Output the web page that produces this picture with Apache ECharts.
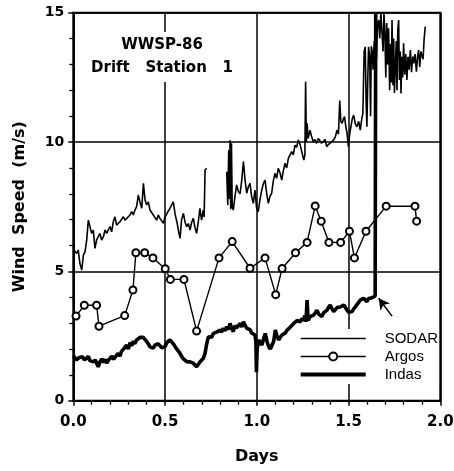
<!DOCTYPE html>
<html><head><meta charset="utf-8">
<script src="https://cdn.jsdelivr.net/npm/echarts@6/dist/echarts.min.js"></script>
<style>html,body{margin:0;padding:0;background:#fff}#c{width:454px;height:471px}</style>
</head><body><div id="c"></div>
<script>
const seriesNames = ['SODAR', 'Argos', 'Indas'];
const xTickLabels = ['0.0', '0.5', '1.0', '1.5', '2.0'];
const yTickLabels = ['0', '5', '10', '15'];
const chartTitle = ['WWSP-86', 'Drift   Station   1'];
const xName = 'Days';
const yName = 'Wind  Speed  (m/s)';

// SODAR (thin line), [day, m/s]; '-' marks the data gap
const sodar = [
[0.004,5.82],[0.018,5.70],[0.027,5.82],[0.036,5.31],[0.046,5.05],[0.055,5.63],[0.064,5.76],[0.073,6.21],[0.082,6.98],[0.091,6.73],
[0.1,6.47],[0.109,6.6],[0.118,5.89],[0.127,6.21],[0.136,6.34],[0.145,6.47],[0.154,6.21],[0.164,6.34],[0.173,6.6],[0.182,6.47],
[0.191,6.6],[0.2,6.73],[0.209,6.53],[0.218,6.92],[0.227,7.11],[0.236,6.79],[0.245,6.73],[0.254,6.92],[0.273,7.11],[0.282,6.98],
[0.291,7.05],[0.309,7.18],[0.318,7.31],[0.327,7.18],[0.336,7.37],[0.345,7.5],[0.354,7.95],[0.363,7.69],[0.373,7.44],[0.382,8.4],
[0.391,7.76],[0.4,7.57],[0.409,7.69],[0.418,7.37],[0.427,7.44],[0.436,7.18],[0.445,7.11],[0.454,6.98],[0.463,7.18],[0.472,7.05],
[0.482,7.11],[0.491,6.86],[0.5,7.11],[0.515,7.3],[0.527,7.44],[0.545,7.69],[0.555,7.2],[0.565,6.9],[0.575,6.5],[0.582,6.28],
[0.59,7.0],[0.6,7.24],[0.609,6.9],[0.618,6.73],[0.627,6.85],[0.636,6.6],[0.645,6.9],[0.654,7.05],[0.663,6.7],[0.672,6.47],
[0.681,6.9],[0.69,7.44],[0.699,6.98],[0.708,7.37],[0.713,7.1],[0.718,8.92],[0.727,8.98],[0.78,'-'],
[0.836,8.85],[0.842,7.56],[0.847,9.69],[0.851,7.8],[0.854,10.07],[0.858,7.4],[0.862,9.95],[0.866,7.5],[0.872,7.37],[0.881,7.9],
[0.89,8.34],[0.9,8.08],[0.909,8.0],[0.918,8.53],[0.927,9.24],[0.936,8.53],[0.945,8.02],[0.954,8.27],[0.963,8.4],[0.972,7.89],
[0.981,7.63],[0.99,8.14],[0.999,7.44],[1.008,7.31],[1.018,7.8],[1.027,8.14],[1.036,8.4],[1.045,8.53],[1.054,8.0],[1.063,7.63],
[1.072,7.9],[1.081,8.02],[1.09,8.5],[1.099,8.79],[1.108,8.6],[1.117,8.98],[1.127,8.8],[1.136,8.53],[1.145,8.9],[1.154,9.18],
[1.163,9.0],[1.172,9.37],[1.181,9.3],[1.19,9.63],[1.199,9.5],[1.208,9.88],[1.217,9.8],[1.226,10.08],[1.236,9.9],[1.245,9.63],
[1.256,9.3],[1.262,9.5],[1.266,12.33],[1.27,10.0],[1.274,10.72],[1.28,10.14],[1.29,10.46],[1.299,10.2],[1.308,10.01],[1.317,10.1],
[1.326,9.95],[1.335,10.14],[1.344,10.05],[1.353,9.95],[1.362,10.01],[1.372,10.1],[1.381,9.82],[1.39,9.9],[1.399,9.95],[1.408,10.01],
[1.419,10.08],[1.428,10.2],[1.437,10.46],[1.445,10.3],[1.452,11.6],[1.458,10.8],[1.465,10.72],[1.472,10.9],[1.478,10.98],[1.485,10.6],
[1.492,10.33],[1.499,9.82],[1.508,10.4],[1.513,10.59],[1.52,10.9],[1.528,11.04],[1.537,10.7],[1.546,10.59],[1.555,10.8],[1.564,10.46],
[1.572,10.9],[1.578,11.1],[1.585,13.5],[1.591,13.68],[1.596,11.5],[1.6,10.59],[1.605,12.5],[1.609,13.68],[1.615,13.3],[1.62,11.0],
[1.624,13.7],[1.628,13.56],[1.634,12.8],[1.64,13.9],[1.646,13.95],[1.652,13.2],[1.658,14.6],[1.664,14.72],[1.67,14.0],[1.676,15],
[1.682,15],[1.688,13.5],[1.693,15],[1.698,14.2],[1.703,12.5],[1.708,14.6],[1.713,13.0],[1.718,14.4],[1.724,12.0],[1.729,13.8],
[1.733,12.3],[1.737,14.72],[1.742,12.2],[1.746,14.0],[1.75,11.9],[1.755,11.88],[1.76,13.9],[1.764,12.0],[1.768,14.3],[1.773,14.72],
[1.777,12.4],[1.782,13.5],[1.786,11.88],[1.79,13.3],[1.795,12.5],[1.8,13.82],[1.806,12.6],[1.812,13.4],[1.818,12.4],[1.824,13.3],
[1.83,12.8],[1.837,13.56],[1.843,12.7],[1.85,13.3],[1.855,13.04],[1.862,13.4],[1.87,12.72],[1.876,13.3],[1.882,13.56],[1.888,12.9],
[1.894,13.5],[1.9,13.43],[1.906,13.2],[1.912,14.0],[1.918,14.46]
];

// Argos (line with open circles)
const argos = [
[0.015,3.27],[0.06,3.69],[0.127,3.69],[0.14,2.88],[0.28,3.29],[0.325,4.28],[0.341,5.72],[0.389,5.72],[0.434,5.52],[0.501,5.10],
[0.529,4.69],[0.603,4.69],[0.672,2.69],[0.794,5.52],[0.866,6.15],[0.963,5.12],[1.045,5.52],[1.103,4.10],[1.138,5.11],[1.211,5.72],
[1.274,6.12],[1.318,7.53],[1.351,6.94],[1.393,6.12],[1.457,6.12],[1.505,6.55],[1.532,5.52],[1.595,6.55],[1.705,7.52],[1.862,7.52],
[1.871,6.94]
];

// Indas (thick line)
const indas = [
[0,1.75],[0.01,1.65],[0.018,1.57],[0.03,1.66],[0.04,1.6],[0.05,1.7],[0.06,1.58],[0.073,1.64],[0.082,1.72],[0.09,1.55],
[0.1,1.62],[0.11,1.5],[0.12,1.58],[0.13,1.4],[0.136,1.31],[0.145,1.5],[0.155,1.62],[0.165,1.48],[0.175,1.6],[0.182,1.45],
[0.19,1.55],[0.2,1.57],[0.21,1.72],[0.22,1.6],[0.23,1.7],[0.245,1.83],[0.254,1.72],[0.262,1.9],[0.272,1.85],[0.28,2.05],
[0.291,2.15],[0.3,2.0],[0.31,2.25],[0.318,2.12],[0.327,2.3],[0.335,2.2],[0.345,2.35],[0.355,2.28],[0.365,2.45],[0.373,2.41],
[0.381,2.45],[0.39,2.38],[0.4,2.28],[0.409,2.2],[0.418,2.08],[0.427,2.03],[0.436,2.03],[0.445,2.15],[0.454,2.1],[0.463,2.2],
[0.472,2.15],[0.481,2.05],[0.49,2.12],[0.5,2.09],[0.51,2.25],[0.52,2.3],[0.527,2.35],[0.536,2.32],[0.545,2.2],[0.554,2.1],
[0.563,2.0],[0.572,1.96],[0.58,1.85],[0.591,1.7],[0.6,1.62],[0.609,1.55],[0.618,1.51],[0.627,1.48],[0.636,1.5],[0.645,1.46],
[0.654,1.45],[0.663,1.4],[0.672,1.31],[0.681,1.38],[0.69,1.5],[0.7,1.57],[0.709,1.64],[0.718,1.83],[0.727,2.2],[0.736,2.47],
[0.745,2.5],[0.754,2.45],[0.763,2.6],[0.772,2.55],[0.781,2.65],[0.79,2.67],[0.8,2.73],[0.808,2.65],[0.817,2.80],[0.826,2.7],
[0.836,2.86],[0.845,2.75],[0.854,2.99],[0.863,2.8],[0.872,2.67],[0.881,2.9],[0.89,2.82],[0.9,2.75],[0.91,2.99],[0.918,2.85],
[0.927,3.05],[0.936,3.05],[0.945,2.8],[0.954,2.73],[0.963,2.75],[0.972,2.62],[0.981,2.67],[0.99,2.54],[0.995,2.3],[0.998,1.1],
[1.002,2.0],[1.01,2.35],[1.019,2.3],[1.028,2.15],[1.037,2.4],[1.046,2.6],[1.055,2.3],[1.065,2.09],[1.074,2.0],[1.083,1.96],
[1.092,2.3],[1.101,2.73],[1.11,2.5],[1.119,2.35],[1.128,2.45],[1.137,2.54],[1.146,2.6],[1.155,2.62],[1.165,2.73],[1.174,2.8],
[1.183,2.85],[1.192,2.9],[1.201,2.99],[1.21,3.0],[1.219,3.1],[1.228,3.12],[1.237,3.05],[1.246,3.18],[1.255,3.1],[1.262,3.3],
[1.268,3.05],[1.274,3.89],[1.28,3.1],[1.29,3.25],[1.3,3.2],[1.31,3.31],[1.319,3.4],[1.328,3.5],[1.337,3.35],[1.346,3.3],
[1.355,3.25],[1.364,3.4],[1.373,3.45],[1.383,3.5],[1.39,3.6],[1.4,3.7],[1.41,3.55],[1.419,3.45],[1.428,3.52],[1.437,3.6],
[1.446,3.57],[1.455,3.62],[1.465,3.65],[1.474,3.7],[1.483,3.6],[1.492,3.5],[1.5,3.42],[1.51,3.38],[1.519,3.45],[1.528,3.55],
[1.537,3.63],[1.546,3.7],[1.555,3.8],[1.564,3.89],[1.573,3.92],[1.582,3.96],[1.591,3.9],[1.6,3.83],[1.61,3.95],[1.619,4.02],
[1.628,3.98],[1.637,4.02],[1.645,4.05],[1.648,15]
];

// arrow annotation (data units)
const arrowTail = [1.737, 3.27];
const arrowHead = [1.664, 3.96];

const BOLD = '"DejaVu Sans"';
const chart = echarts.init(document.getElementById('c'), null, {renderer: 'canvas'});
const axisCommon = {
  axisLine: {show: true, lineStyle: {color: '#000', width: 2}},
  axisTick: {show: true, length: 5, lineStyle: {color: '#000', width: 1.5}},
  minorTick: {show: true, splitNumber: 5, length: 4, lineStyle: {color: '#000', width: 1.3}},
  splitLine: {show: true, lineStyle: {color: '#000', width: 1.5}},
};
chart.setOption({
  animation: false,
  backgroundColor: '#fff',
  grid: {left: 73.3, right: 13.7, top: 12.7, bottom: 70.3, show: true, borderColor: '#000', borderWidth: 2, outerBoundsMode: 'none', containLabel: false},
  xAxis: Object.assign({
    type: 'value', min: 0, max: 2, interval: 0.5,
    name: xName, nameLocation: 'middle', nameGap: 48,
    nameTextStyle: {fontFamily: BOLD, fontWeight: 'bold', fontSize: 16, color: '#000'},
    axisLabel: {margin: 14, color: '#000', fontFamily: BOLD, fontWeight: 'bold', fontSize: 15,
      formatter: v => xTickLabels[Math.round(v / 0.5)], showMaxLabel: true, showMinLabel: true, hideOverlap: false}
  }, axisCommon),
  yAxis: Object.assign({
    type: 'value', min: 0, max: 15, interval: 5,
    name: yName, nameLocation: 'middle', nameGap: 45,
    nameTextStyle: {fontFamily: BOLD, fontWeight: 'bold', fontSize: 16, color: '#000'},
    axisLabel: {margin: 9, color: '#000', fontFamily: BOLD, fontWeight: 'bold', fontSize: 14,
      formatter: v => yTickLabels[Math.round(v / 5)]}
  }, axisCommon),
  legend: {
    orient: 'vertical', left: 294.7, top: 329, itemWidth: 65, itemHeight: 10, itemGap: 3,
    backgroundColor: '#fff', padding: [2, 1, 2, 4], selectedMode: false,
    textStyle: {fontFamily: 'Liberation Sans', fontSize: 15, color: '#000', padding: [0, 0, 0, 14]},
    data: [
      {name: seriesNames[0], itemStyle: {opacity: 0}, lineStyle: {width: 1.6}},
      {name: seriesNames[1], lineStyle: {width: 1.5}},
      {name: seriesNames[2], itemStyle: {opacity: 0}, lineStyle: {width: 4}}
    ]
  },
  graphic: [{
    type: 'text', x: 162, y: 32, z: 100,
    style: {text: chartTitle.join('\n'), font: 'bold 15px "DejaVu Sans"', fill: '#000',
      align: 'center', verticalAlign: 'top', textAlign: 'center', textVerticalAlign: 'top',
      lineHeight: 23, backgroundColor: '#fff', padding: [2, 4]}
  }],
  series: [
    {name: seriesNames[0], type: 'line', data: sodar, symbol: 'none', connectNulls: false,
      lineStyle: {color: '#000', width: 1.6}, itemStyle: {color: '#000'}, z: 2},
    {name: seriesNames[1], type: 'line', data: argos, symbol: 'emptyCircle', symbolSize: 7,
      lineStyle: {color: '#000', width: 1.4}, itemStyle: {color: '#000', borderWidth: 1.4}, z: 4},
    {name: seriesNames[2], type: 'line', data: indas, symbol: 'none',
      lineStyle: {color: '#000', width: 3.6}, itemStyle: {color: '#000'}, z: 3,
      markLine: {silent: true, symbol: ['none', 'arrow'], symbolSize: [9, 11], label: {show: false},
        lineStyle: {color: '#000', width: 1.5, type: 'solid'},
        data: [[{coord: arrowTail}, {coord: arrowHead}]]}}
  ]
});
</script></body></html>
